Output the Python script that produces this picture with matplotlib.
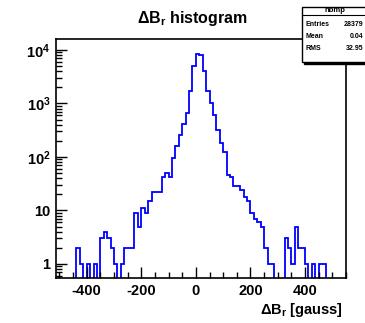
import numpy as np
import matplotlib
matplotlib.use("Agg")
import matplotlib.pyplot as plt
from matplotlib.patches import Rectangle
from matplotlib.ticker import FixedLocator, FuncFormatter, LogLocator, NullFormatter

plt.rcParams['font.family'] = ['Liberation Sans', 'DejaVu Sans']
plt.rcParams['font.weight'] = 'bold'
plt.rcParams['axes.unicode_minus'] = False
plt.rcParams['mathtext.fontset'] = 'custom'
plt.rcParams['mathtext.rm'] = 'Liberation Sans:bold'
plt.rcParams['mathtext.it'] = 'Liberation Sans:bold'
plt.rcParams['mathtext.bf'] = 'Liberation Sans:bold'

# histogram of delta B_r, 12.5 gauss bins from -512.5 to 550
bin_lo = -512.5
bin_w = 12.5
counts = [0, 0, 0, 0, 0, 0, 2, 1, 0, 1,
          0, 1, 0, 3, 4, 3, 2, 1, 0, 1,
          2, 2, 2, 9, 5, 11, 9, 15, 22, 22,
          22, 43, 50, 43, 95, 160, 260, 410, 650, 1700,
          5000, 8400, 8000, 4100, 1700, 1030, 600, 320, 180, 125,
          46, 43, 29, 29, 24, 18, 15, 9, 7, 6,
          5, 2, 1, 1, 0, 0, 0, 3, 2, 1,
          5, 2, 2, 1, 0, 1, 0, 1, 1, 0,
          0, 0, 0, 0, 0]
stats_names = ['Entries', 'Mean', 'RMS']
stats_vals = ['28379', '0.04', '32.95']
hist_name = 'hbmp'

W, H = 365, 323
fig = plt.figure(figsize=(W / 100, H / 100), dpi=100)
fig.patch.set_facecolor('white')

def px(x0, y0, x1, y1):
    return [x0 / W, 1 - y1 / H, (x1 - x0) / W, (y1 - y0) / H]

ax = fig.add_axes(px(56, 39, 346, 278))

edges = bin_lo + bin_w * np.arange(len(counts) + 1)
vals = np.array(counts, dtype=float)
vals[vals <= 0] = 1e-3
ax.stairs(vals, edges, baseline=1e-3, color='#0000ff', lw=1.3)

ax.set_yscale('log')
ax.set_xlim(-512.5, 550)
ax.set_ylim(0.547, 16000)

ax.xaxis.set_major_locator(FixedLocator([-400, -200, 0, 200, 400]))
ax.xaxis.set_minor_locator(FixedLocator(np.arange(-500, 551, 50)))
ax.yaxis.set_major_locator(FixedLocator([1, 10, 100, 1000, 10000]))
ax.yaxis.set_minor_locator(LogLocator(base=10, subs=np.arange(2, 10)))
ax.yaxis.set_minor_formatter(NullFormatter())

def yfmt(v, pos):
    e = int(round(np.log10(v)))
    if e == 0:
        return '1'
    if e == 1:
        return '10'
    return r'$10^{%d}$' % e

ax.yaxis.set_major_formatter(FuncFormatter(yfmt))
ax.tick_params(which='both', direction='in', top=False, right=False,
               labelsize=10.5, width=1.0, pad=4)
ax.tick_params(which='major', length=8)
ax.tick_params(which='minor', length=4)
for lab in ax.get_xticklabels() + ax.get_yticklabels():
    lab.set_fontweight('bold')
for s in ax.spines.values():
    s.set_linewidth(1.2)

fig.text(192 / W, 1 - 18 / H, r'ΔB$_r$ histogram', ha='center', va='center',
         fontsize=11.5, fontweight='bold')
fig.text(343 / W, 1 - 310 / H, r'ΔB$_r$ [gauss]', ha='right', va='center',
         fontsize=10.5, fontweight='bold')

# stat box
fig.patches.append(Rectangle((304 / W, 1 - 64 / H), 70 / W, 55 / H,
                             transform=fig.transFigure, facecolor='black',
                             edgecolor='black', zorder=5))
fig.patches.append(Rectangle((302 / W, 1 - 62 / H), 70 / W, 55 / H,
                             transform=fig.transFigure, facecolor='white',
                             edgecolor='black', lw=1.0, zorder=6))
fig.text(335 / W, 1 - 11 / H, hist_name, ha='center', va='center',
         fontsize=5.5, fontweight='bold', zorder=7)
fig.add_artist(plt.Line2D([302 / W, 372 / W], [1 - 15 / H, 1 - 15 / H],
                          transform=fig.transFigure, color='black', lw=0.8,
                          zorder=7))
for i, (nm, v) in enumerate(zip(stats_names, stats_vals)):
    y = 1 - (24 + 12 * i) / H
    fig.text(305 / W, y, nm, ha='left', va='center', fontsize=5,
             fontweight='bold', zorder=7)
    fig.text(363 / W, y, v, ha='right', va='center', fontsize=5,
             fontweight='bold', zorder=7)

fig.savefig('out.png', dpi=100)
